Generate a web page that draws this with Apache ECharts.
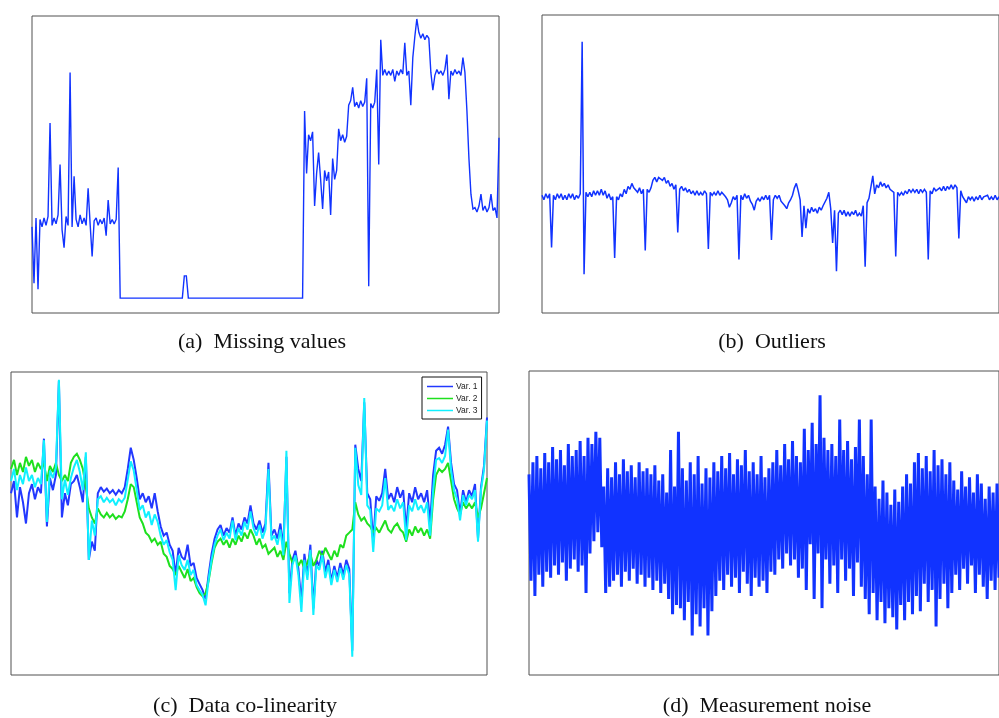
<!DOCTYPE html>
<html>
<head>
<meta charset="utf-8">
<script src="https://cdn.jsdelivr.net/npm/echarts/dist/echarts.min.js"></script>
<style>
  html, body { margin: 0; padding: 0; background: #fff; }
  #chart { width: 999px; height: 718px; }
</style>
</head>
<body>
<div id="chart"></div>
<script>
// Panel captions and legend labels
const captions = ['(a)  Missing values', '(b)  Outliers', '(c)  Data co-linearity', '(d)  Measurement noise'];
const legendNames = ['Var. 1', 'Var. 2', 'Var. 3'];

// (a) signal with a long block of held (missing) values
const missingValues = [
  29,10,32,8,31.5,29,32,29.5,32.5,64,
  29.5,32,30,33,50,28,22,32.5,29.5,81,
  29,46,31.5,29,33,30,32,29.5,42,30,
  19,31,32,29.5,31.5,30,32,26,38,30,
  31.5,30,31.5,49,
  5,5,5,5,5,5,5,5, 5,5,5,5,5,5,5,5, 5,5,5,5,5,5,5,5, 5,5,5,5,5,5,5,5,
  12.5,12.5,
  5,5,5,5,5,5,5,5, 5,5,5,5,5,5,5,5, 5,5,5,5,5,5,5,5, 5,5,5,5,5,5,5,5,
  5,5,5,5,5,5,5,5, 5,5,5,5,5,5,5,5, 5,5,5,5,5,5,5,5, 5,5,
  68,47,60,58,61,36,
  47,54,45,35,48,44.5,47.5,33,52,45,48,
  62,58,60,57.5,59.5,
  70,71.5,76,69.5,71,69,71.5,69.5,71,79,9,70.5,69,71,
  82,50,92,80,
  82,80,81.5,80,82,78,81.5,80,82,80.5,91,80,81.5,70,86,
  93,99,94.5,92.5,94,92,93.5,92.5,
  81,75,
  80,82,80.5,81.5,80,82,87,72,81.5,80,82,80.5,81.5,80,86,81,
  68,52,40,35,
  35.5,34,36,40,34.5,36,34,35.5,40,34.5,35.5,32,59
];

// (b) signal with periodic outlier spikes
const outlierValues = [
  39.5,38,40,38.5,40,22,39.5,38,40,38.5,
  40,38,39.5,38,40,38.5,40,38,39.5,38.5,
  40,91,13,40.5,39,40.5,39,41,39.5,41,
  39.5,41.5,39.5,41,38.5,40,38,39,18.5,39,
  38,40,39,41.5,40,42.5,41.5,43.5,42,42.5,
  40.5,42,40,41.5,21,41.5,40.5,42,44.5,45.5,
  44,45.5,46,44.5,45.5,43.5,44.5,42.5,43.5,41.5,
  43,27,41.5,42.5,41,42,40.5,41.5,40,41,
  39.5,41,39.5,40.5,39.5,41,40,21.5,40.5,39.5,
  40.5,39.5,41,39.5,40.5,41,39,38,35.5,37,
  39,38,39.5,18,39.5,38,40,38.5,39.5,37.5,
  36.5,34.5,37.5,38.5,37.5,39,38,39.5,38,39.5,
  24.5,38,39.5,38.5,39.5,37.5,38,36,35,37,
  38,39.5,42,43.5,41,38,25.5,36,28.5,35,
  33.5,35.5,34,35,33.5,35.5,34.5,36,36.5,38.5,
  40.5,35,23.5,34.5,14,33.5,34.5,33,34.5,32.5,
  34,32.5,34,33,34.5,32.5,33.5,32.5,36,15.5,
  37,38.5,39,46,40,43,42,44,42.5,43.5,
  42,43,41.5,42,40.5,19,40.5,39.5,40.5,39.5,
  41,40,41.5,40.5,41.5,40.5,41.5,40,41.5,40.5,
  41.5,40.5,18,41,40,42,41,40.5,42,41,
  42.5,41,42.5,41.5,43,41.5,43,42,25,41,
  39,38,37,39,38,39,37.5,39,38,39.5,
  38,39,38.5,39.5,38,39,38,39.5,38,39
];

// (c) three strongly correlated variables
const var1Values = [
  60,64,52,62,57,50,60,63,58,62,
  60,78,49,65,61,66,97,52,60,56,
  63,64,66,62,57,72,38,44,41,60,
  62,60.5,61.5,60,61,59.5,61,60,62,68,
  75,71,65,58,60,57,59,55,60,54,
  49,46,47,43,41,33,42,39,38,43,
  36,37,32,30,28,25,33,40,45,48,
  49.5,46,48.5,47,52,46,50,48,52,50,
  56,50,48,51,47,50,70,46,48,45,
  50,42,72,27,38,41,35,24,40,33,
  43,22,38,36,41,34,38,31,36,32,
  37,33,38,35,8,76,68,64,90,60,
  58,44,59,57.5,60,68,58,60,57,62,
  58.5,61,48,60,57,62,58,60,57,61,
  50,66,74,75,73,76,82,70,63,61,
  53,61,57,61,59,63,45,62,69,85
];
const var2Values = [
  68,71,66,70,67,72,69,71,67,70,
  68,70,64,69,67,70,66,64,66,64,
  70,72,73,71,68,62,55,52,50,55,
  53,52,53.5,52,53,51.5,52.5,52,54,58,
  63,62,57,52,50,47,46,44,45,43,
  44,40,39,36,35,33,36,34,32,35,
  31,32,29,27,26,27,31,37,42,44,
  45,43,44.5,42,45,43,46,44,47,45,
  48,46,43,45,42,43,40,41,42,39,
  41,38,44,40,37,39,36,38,35,37,
  40,36,38,41,39,42,40,38,41,39,
  43,42,46,47,48,57,53,51,52,50,
  49,47,48.5,47,49,51,48,47,49,50,
  48,47,44,48,46,49,47,48.5,46,48,
  45,58,66,68,67,68,70,64,58,55,
  53,57,55,56.5,55,57,52,55,60,65
];
const var3Values = [
  64,68,61,66,63,68.5,64,66,62,65,
  63,77.5,50.5,67.5,65,68.5,97.4,58,64.5,59.5,
  65,68.5,71,67,61,73.5,38,51,46,58,
  59,57,58.5,57,58,56,58,57,58.5,64.5,
  70.5,67.5,61,54.5,56,52,54,49.5,53,50.5,
  46,43,44.5,40.5,38,28,39.5,36.3,34.7,38,
  33,34.7,29.7,28,26.4,23,31.4,38,43,46,
  48,44.5,47,45,51,44.5,48.5,46,50.5,48,
  54,48.5,46,49.5,45,48,68,44.5,46,43,
  48,39.5,74,23.8,36.3,39.5,33,20.8,38,31.4,
  41.3,19.8,36.3,34.7,39.6,32,36.3,29.7,34.7,30.7,
  35.3,31.4,36.3,33,6,75,62.7,59.4,91.4,56,
  54.5,40.6,55,54,56,65,54.5,56,54,58,
  55,57,44.5,56,54,58,54.5,56,53.5,57,
  46,61,71,71.6,70,72.3,81,67.7,61,58,
  51,59.4,56,59.4,58,61,44,61,67.7,84
];

// (d) signal buried in heavy measurement noise
const noiseValues = [
  66,31,70,26,72,33,68,29,73,34,
  70,32,75,36,71,33,74,37,69,31,
  76,35,72,38,74,34,77,36,72,27,
  78,40,76,44,80,47,78,42,62,27,
  68,29,65,31,70,33,66,29,71,34,
  67,31,69,35,65,30,70,33,67,29,
  68,32,66,28,69,31,64,27,66,30,
  60,25,74,20,62,23,80,22,68,18,
  64,24,70,13,66,20,72,16,63,22,
  68,13,65,21,70,26,67,31,72,28,
  68,33,73,29,66,32,71,27,69,34,
  74,30,67,26,70,32,66,29,72,31,
  65,27,68,34,70,33,74,38,69,35,
  76,40,71,36,77,38,72,32,70,35,
  81,28,74,43,83,25,76,40,92,22,
  78,38,74,30,76,36,72,27,84,38,
  74,31,77,35,71,26,75,37,84,29,
  72,25,66,20,84,27,62,18,58,24,
  64,17,60,22,56,19,61,15,57,23,
  62,18,66,24,63,20,70,26,73,21,
  68,30,72,24,67,28,74,16,69,25,
  71,30,66,22,70,27,64,33,61,28,
  67,35,62,30,65,36,60,27,66,33,
  63,29,58,25,62,31,60,28,63,32
];

const BLUE = '#1133ff';
const VAR_COLORS = ['#2238ff', '#1ee01e', '#10f0ff'];

// Framed, axis-free panels
const panels = [
  { left: 32,  top: 16,  width: 467, height: 297, n: missingValues.length },
  { left: 542, top: 15,  width: 478, height: 298, n: outlierValues.length },
  { left: 11,  top: 372, width: 476, height: 303, n: var1Values.length },
  { left: 529, top: 371, width: 478, height: 304, n: noiseValues.length }
];

const grids = panels.map(p => ({
  left: p.left, top: p.top, width: p.width, height: p.height,
  show: true, borderColor: '#505050', borderWidth: 1, backgroundColor: 'transparent',
  containLabel: false
}));
const xAxes = panels.map((p, k) => ({
  type: 'value', gridIndex: k, min: 0, max: p.n - 1,
  show: false, splitLine: { show: false }
}));
const yAxes = panels.map((p, k) => ({
  type: 'value', gridIndex: k, min: 0, max: 100,
  show: false, splitLine: { show: false }
}));

function line(values, k, color, name, width) {
  return {
    type: 'line', name: name, xAxisIndex: k, yAxisIndex: k,
    data: values.map((v, i) => [i, v]),
    showSymbol: false, symbol: 'none', clip: true,
    lineStyle: { color: color, width: width || 1, join: 'miter', miterLimit: 2 },
    itemStyle: { color: color },
    emphasis: { disabled: true }, silent: true
  };
}

const series = [
  line(missingValues, 0, BLUE, undefined, 1.4),
  line(outlierValues, 1, BLUE, undefined, 1.5),
  line(var1Values, 2, VAR_COLORS[0], legendNames[0], 2),
  line(var2Values, 2, VAR_COLORS[1], legendNames[1], 2),
  line(var3Values, 2, VAR_COLORS[2], legendNames[2], 2),
  line(noiseValues, 3, BLUE, undefined, 3)
];

const captionPos = [[262, 342], [772, 342], [245, 706], [767, 706]];
const graphic = captions.map((t, k) => ({
  type: 'text', x: captionPos[k][0], y: captionPos[k][1], silent: true,
  style: {
    text: t, fill: '#111', font: '22px "Liberation Serif", "DejaVu Serif", serif',
    textAlign: 'center', textVerticalAlign: 'middle', align: 'center', verticalAlign: 'middle'
  }
}));

const chart = echarts.init(document.getElementById('chart'), null, { renderer: 'canvas', devicePixelRatio: 1 });
chart.setOption({
  animation: false,
  backgroundColor: '#fff',
  grid: grids,
  xAxis: xAxes,
  yAxis: yAxes,
  legend: {
    data: legendNames, orient: 'vertical', left: 422, top: 377,
    icon: 'rect', itemWidth: 26, itemHeight: 1.5, itemGap: 3,
    padding: [5, 4, 4, 5], backgroundColor: '#fff',
    borderColor: '#111', borderWidth: 1, borderRadius: 0,
    selectedMode: false,
    textStyle: { fontSize: 8.5, lineHeight: 9, color: '#222', fontFamily: '"Liberation Sans", Arial, sans-serif', padding: [0, 0, 0, -2] }
  },
  series: series,
  graphic: graphic
});
</script>
</body>
</html>
